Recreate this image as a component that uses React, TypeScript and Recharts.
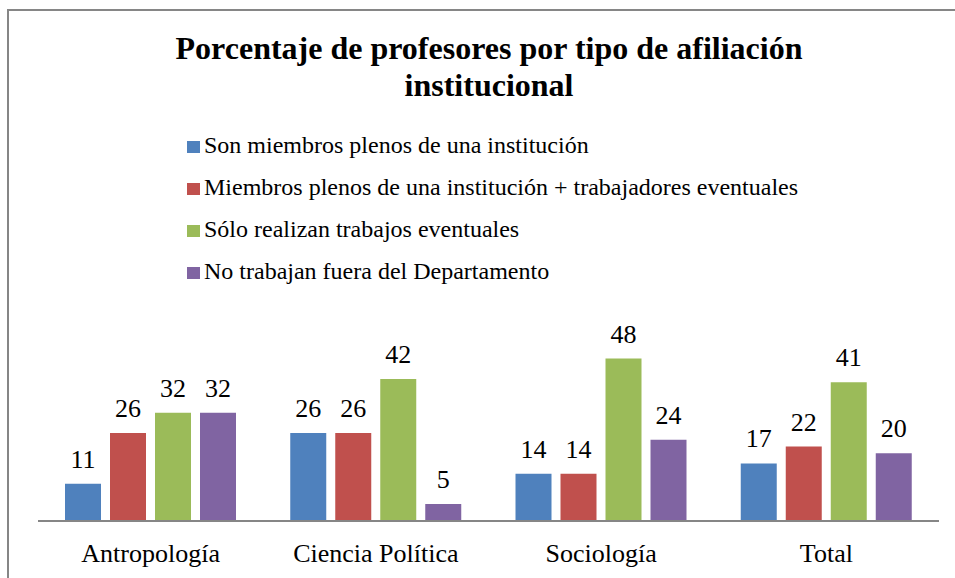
import React from 'react';
import { BarChart, Bar, XAxis, YAxis, LabelList } from 'recharts';

const categories = ['Antropología', 'Ciencia Política', 'Sociología', 'Total'];
const miembrosPlenos = [11, 26, 14, 17];
const plenosMasEventuales = [26, 26, 14, 22];
const soloEventuales = [32, 42, 48, 41];
const noTrabajanFuera = [32, 5, 24, 20];

const seriesNames = [
  'Son miembros plenos de una institución',
  'Miembros plenos de una institución + trabajadores eventuales',
  'Sólo realizan trabajos eventuales',
  'No trabajan fuera del Departamento',
];
const seriesColors = ['#4F81BD', '#C0504D', '#9BBB59', '#8064A2'];
const seriesKeys = ['s1', 's2', 's3', 's4'];

const data = categories.map((name, i) => ({
  name,
  s1: miembrosPlenos[i],
  s2: plenosMasEventuales[i],
  s3: soloEventuales[i],
  s4: noTrabajanFuera[i],
}));

const serif = '"Liberation Serif", "Times New Roman", serif';

export default function App() {
  return (
    <div
      style={{
        position: 'absolute',
        left: 0,
        top: 0,
        width: 955,
        height: 578,
        background: '#fff',
        overflow: 'hidden',
        fontFamily: serif,
      }}
    >
      {/* frame, cut off at the right and bottom like the source */}
      <div
        style={{
          position: 'absolute',
          left: 7,
          top: 9,
          width: 1000,
          height: 700,
          border: '2px solid #868686',
          boxSizing: 'border-box',
        }}
      />
      <div
        style={{
          position: 'absolute',
          left: 0,
          top: 30,
          width: 978,
          textAlign: 'center',
          fontWeight: 'bold',
          fontSize: 32,
          lineHeight: '37px',
          color: '#000',
        }}
      >
        Porcentaje de profesores por tipo de afiliación
        <br />
        institucional
      </div>
      <div style={{ position: 'absolute', left: 187, top: 124 }}>
        {seriesNames.map((n, i) => (
          <div key={n} style={{ display: 'flex', alignItems: 'center', height: 42, fontSize: 24, color: '#000' }}>
            <div style={{ width: 13, height: 12, background: seriesColors[i], marginRight: 4, marginTop: 3 }} />
            <span>{n}</span>
          </div>
        ))}
      </div>
      <div style={{ position: 'absolute', left: 0, top: 0 }}>
        <BarChart
          width={955}
          height={578}
          data={data}
          margin={{ top: 318, left: 38, right: 16, bottom: 27 }}
          barSize={36}
          barGap={9}
        >
          <XAxis
            dataKey="name"
            tickLine={false}
            axisLine={{ stroke: '#868686', strokeWidth: 2 }}
            tick={{ fill: '#000', fontSize: 26, fontFamily: serif }}
            dy={15}
          />
          <YAxis hide domain={[0, 60]} />
          {seriesKeys.map((k, i) => (
            <Bar key={k} dataKey={k} name={seriesNames[i]} fill={seriesColors[i]} isAnimationActive={false}>
              <LabelList
                dataKey={k}
                position="top"
                offset={16}
                fill="#000"
                fontSize={26}
                fontFamily={serif}
              />
            </Bar>
          ))}
        </BarChart>
      </div>
    </div>
  );
}
